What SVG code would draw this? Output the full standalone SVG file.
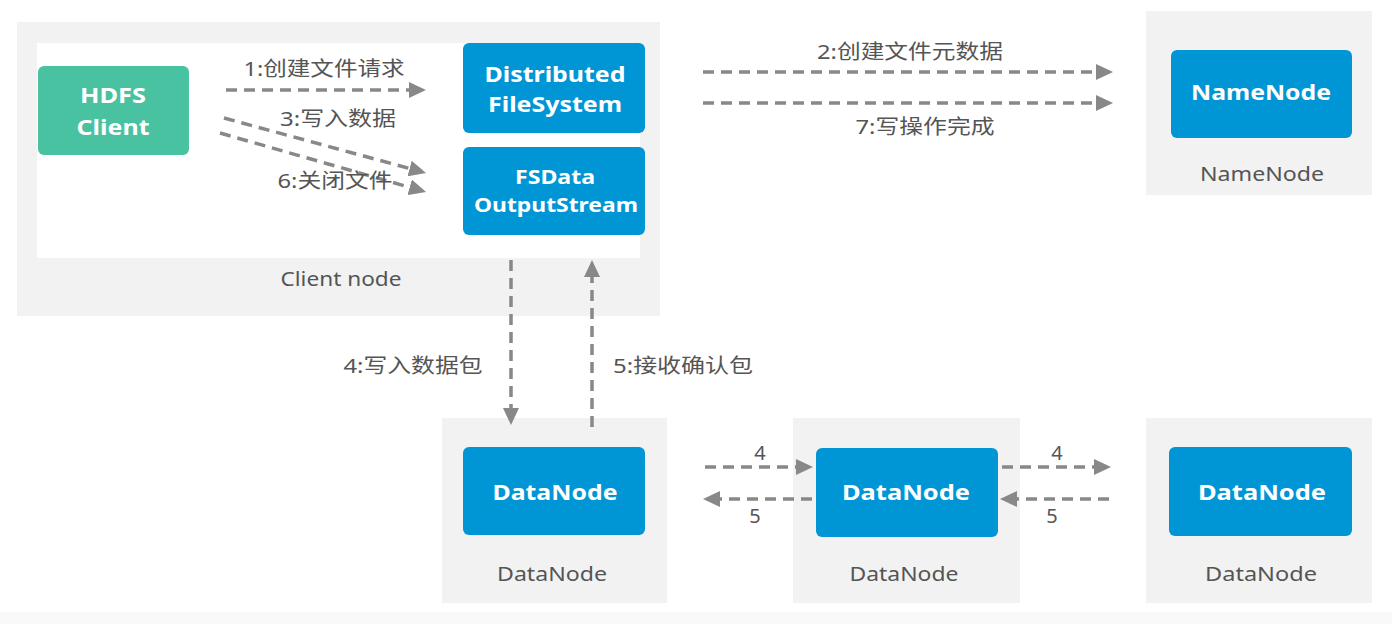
<svg xmlns="http://www.w3.org/2000/svg" width="1392" height="624" viewBox="0 0 1392 624">
<style>
.bg{fill:#f2f2f2}
.blue{fill:#0096d6}
.green{fill:#48c2a0}
.wt{fill:#ffffff;font-family:"Noto Sans","Noto Sans CJK SC",sans-serif;font-weight:bold;font-size:22px;text-anchor:middle}
.ws{font-size:20px}
.gt{fill:#555555;font-family:"Noto Sans","Noto Sans CJK SC",sans-serif;font-size:20px;text-anchor:middle}
.conn{stroke:#888888;stroke-width:3.5;fill:none;stroke-dasharray:11 7;marker-end:url(#ah)}
</style>
<defs>
<marker id="ah" markerUnits="userSpaceOnUse" markerWidth="17" markerHeight="16" refX="0" refY="8" orient="auto">
<path d="M0,0 L17,8 L0,16 z" fill="#888888"/>
</marker>
</defs>
<rect x="0" y="0" width="1392" height="624" fill="#ffffff"/>
<rect x="0" y="612" width="1392" height="12" fill="#f9f9f9"/>

<g id="client-node">
<rect class="bg" x="17" y="22" width="643" height="294"/>
<rect x="37" y="43" width="603" height="215" fill="#ffffff"/>
<text class="gt" x="341" y="286" textLength="121" lengthAdjust="spacingAndGlyphs">Client node</text>
</g>
<g id="hdfs-client">
<rect class="green" x="38" y="66" width="151" height="89" rx="6"/>
<text class="wt" x="113" y="103" textLength="66" lengthAdjust="spacingAndGlyphs">HDFS</text>
<text class="wt" x="113" y="135" textLength="73" lengthAdjust="spacingAndGlyphs">Client</text>
</g>
<g id="distributed-filesystem">
<rect class="blue" x="463" y="43" width="182" height="90" rx="6"/>
<text class="wt" x="555" y="82" textLength="141" lengthAdjust="spacingAndGlyphs">Distributed</text>
<text class="wt" x="555" y="112" textLength="134" lengthAdjust="spacingAndGlyphs">FileSystem</text>
</g>
<g id="fsdata-outputstream">
<rect class="blue" x="463" y="147" width="182" height="88" rx="6"/>
<text class="wt ws" x="555" y="184" textLength="80" lengthAdjust="spacingAndGlyphs">FSData</text>
<text class="wt ws" x="556" y="212" textLength="164" lengthAdjust="spacingAndGlyphs">OutputStream</text>
</g>
<g id="namenode">
<rect class="bg" x="1146" y="11" width="226" height="184"/>
<rect class="blue" x="1171" y="50" width="181" height="88" rx="6"/>
<text class="wt" x="1261" y="100" textLength="140" lengthAdjust="spacingAndGlyphs">NameNode</text>
<text class="gt" x="1262" y="181" textLength="124" lengthAdjust="spacingAndGlyphs">NameNode</text>
</g>
<g id="datanode1">
<rect class="bg" x="442" y="418" width="225" height="185"/>
<rect class="blue" x="463" y="447" width="182" height="88" rx="6"/>
<text class="wt" x="555" y="500" textLength="125" lengthAdjust="spacingAndGlyphs">DataNode</text>
<text class="gt" x="552" y="581" textLength="110" lengthAdjust="spacingAndGlyphs">DataNode</text>
</g>
<g id="datanode2">
<rect class="bg" x="793" y="418" width="227" height="185"/>
<rect class="blue" x="816" y="448" width="182" height="89" rx="6"/>
<text class="wt" x="906" y="500" textLength="128" lengthAdjust="spacingAndGlyphs">DataNode</text>
<text class="gt" x="904" y="581" textLength="109" lengthAdjust="spacingAndGlyphs">DataNode</text>
</g>
<g id="datanode3">
<rect class="bg" x="1146" y="418" width="226" height="185"/>
<rect class="blue" x="1169" y="447" width="183" height="89" rx="6"/>
<text class="wt" x="1262" y="500" textLength="128" lengthAdjust="spacingAndGlyphs">DataNode</text>
<text class="gt" x="1261" y="581" textLength="112" lengthAdjust="spacingAndGlyphs">DataNode</text>
</g>

<g id="connectors">
<line class="conn" x1="226" y1="90" x2="409" y2="90"/>
<line class="conn" x1="224" y1="118" x2="409.6" y2="168.5"/>
<line class="conn" x1="220" y1="133" x2="409.7" y2="187.3"/>
<line class="conn" x1="703" y1="72" x2="1096" y2="72"/>
<line class="conn" x1="703" y1="103" x2="1096" y2="103"/>
<line class="conn" x1="511" y1="260" x2="511" y2="408"/>
<line class="conn" x1="592" y1="427" x2="592" y2="277"/>
<line class="conn" x1="705" y1="467" x2="796" y2="467"/>
<line class="conn" x1="812" y1="499" x2="720" y2="499"/>
<line class="conn" x1="1002" y1="467" x2="1094" y2="467"/>
<line class="conn" x1="1109" y1="499" x2="1017" y2="499"/>
<text class="gt" x="324" y="76" textLength="161" lengthAdjust="spacingAndGlyphs">1:创建文件请求</text>
<text class="gt" x="338" y="126" textLength="116" lengthAdjust="spacingAndGlyphs">3:写入数据</text>
<text class="gt" x="335" y="188" textLength="115" lengthAdjust="spacingAndGlyphs">6:关闭文件</text>
<text class="gt" x="910" y="59" textLength="186" lengthAdjust="spacingAndGlyphs">2:创建文件元数据</text>
<text class="gt" x="925" y="134" textLength="139" lengthAdjust="spacingAndGlyphs">7:写操作完成</text>
<text class="gt" x="413" y="373" textLength="139" lengthAdjust="spacingAndGlyphs">4:写入数据包</text>
<text class="gt" x="683" y="373" textLength="140" lengthAdjust="spacingAndGlyphs">5:接收确认包</text>
<text class="gt" x="760" y="460">4</text>
<text class="gt" x="755" y="523">5</text>
<text class="gt" x="1057" y="460">4</text>
<text class="gt" x="1052" y="523">5</text>
</g>
</svg>
